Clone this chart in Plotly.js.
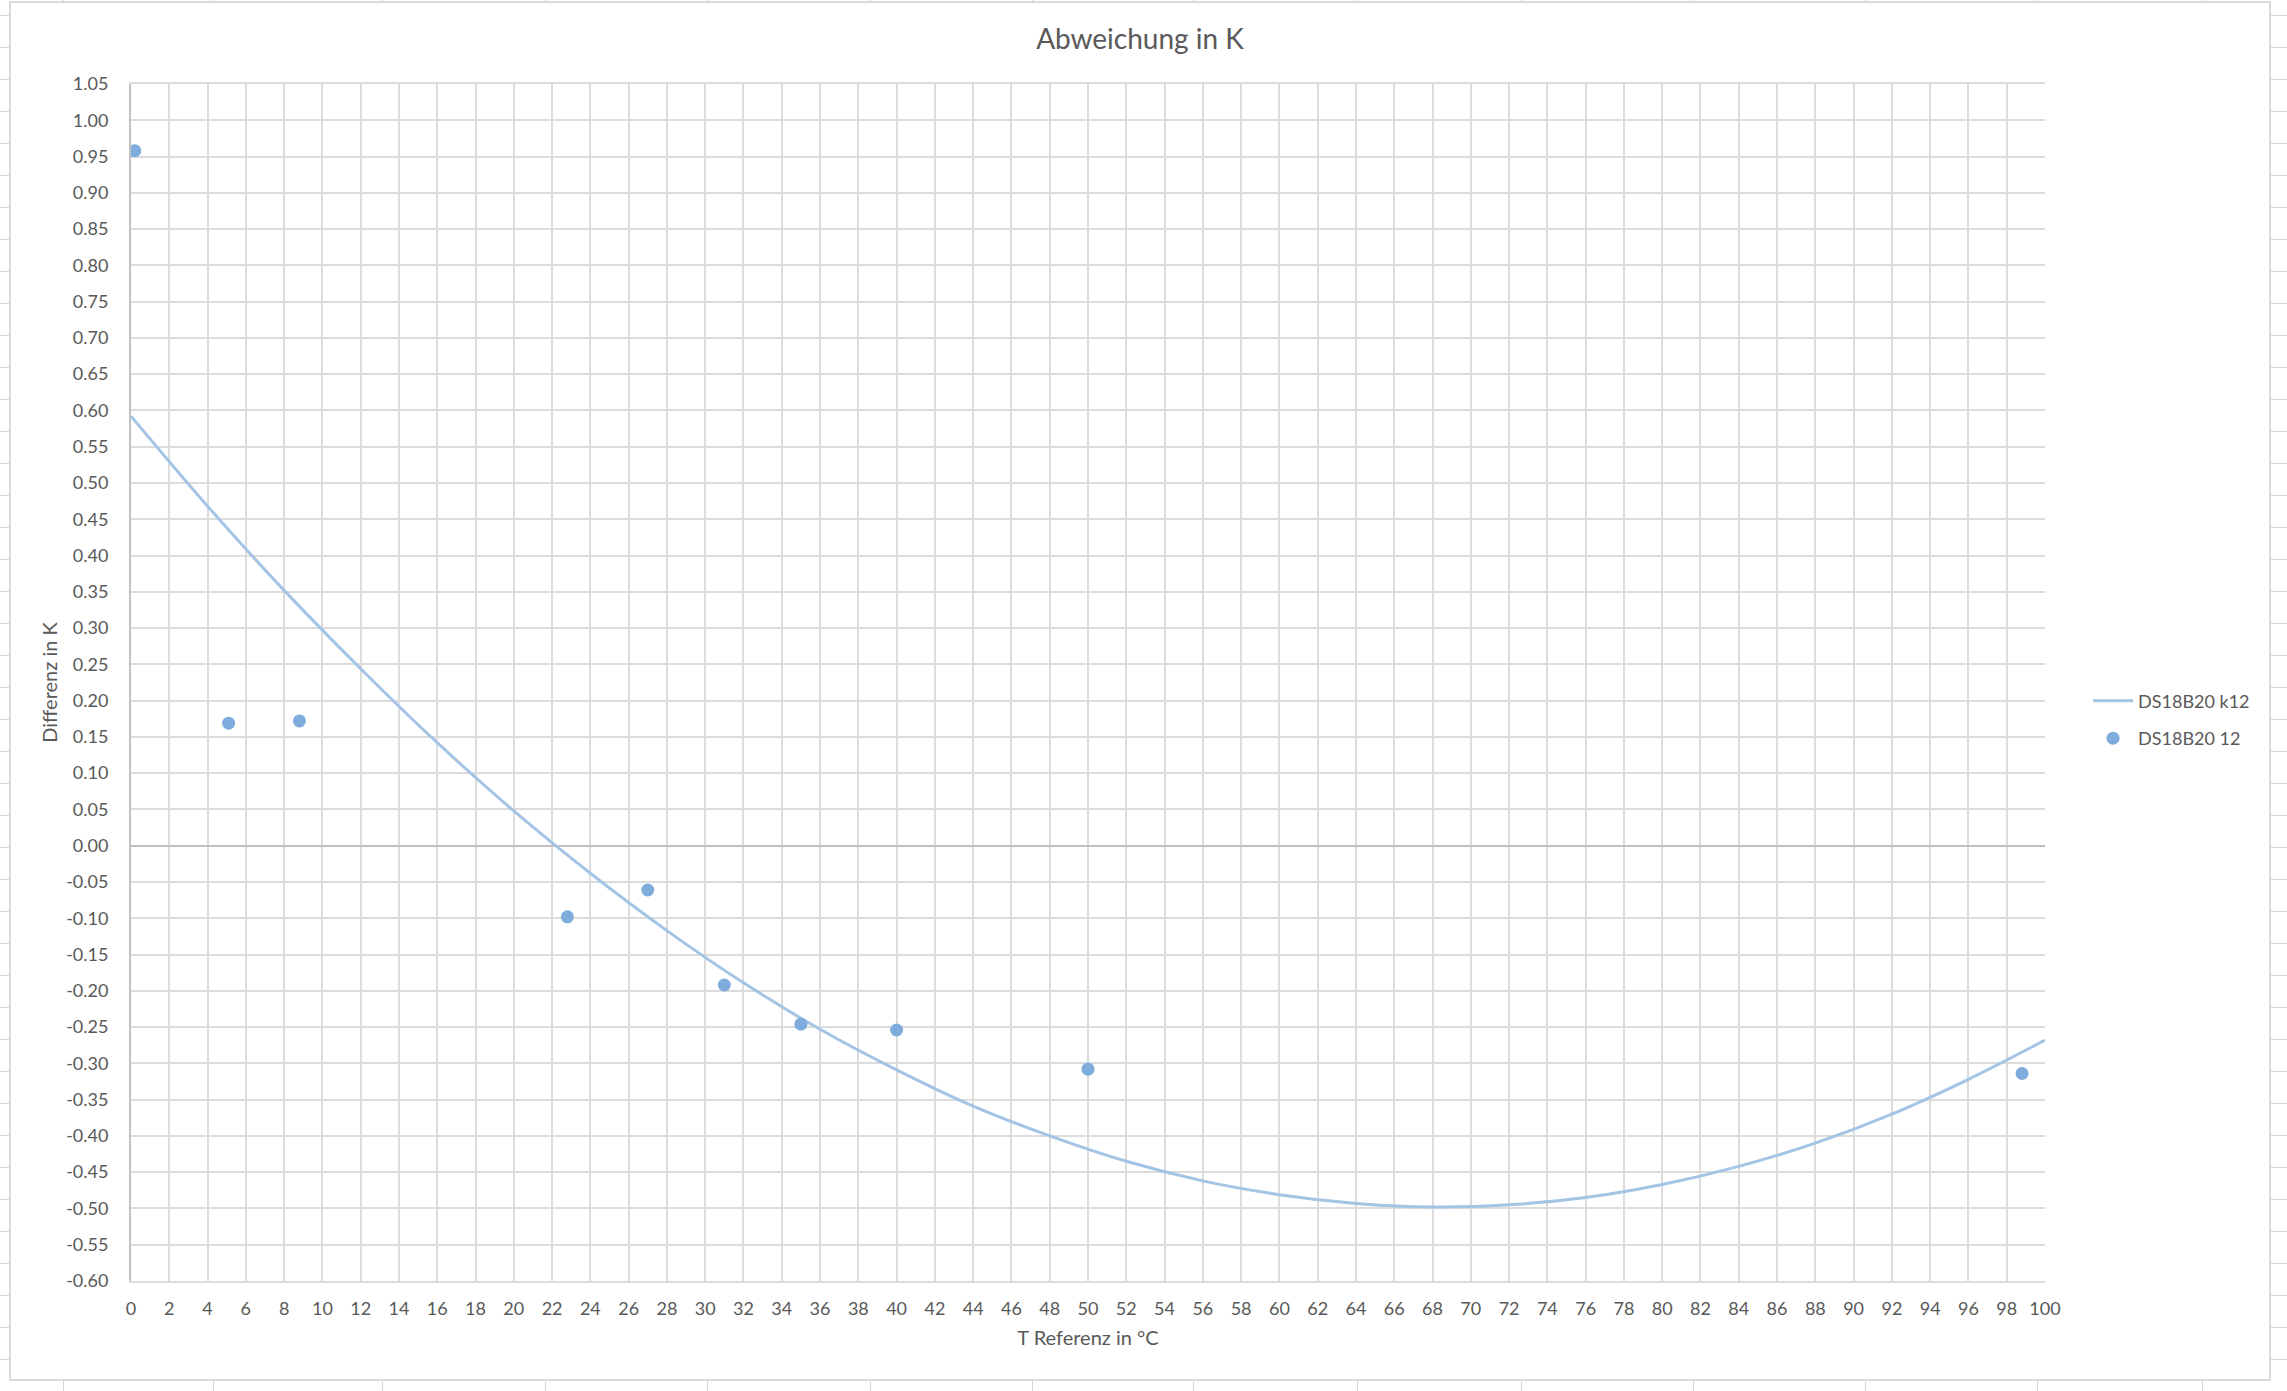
<!DOCTYPE html>
<html><head><meta charset="utf-8">
<script src="https://cdn.plot.ly/plotly-3.0.1.min.js"></script>
<style>
html,body{margin:0;padding:0;width:2287px;height:1391px;overflow:hidden;background:#fff;}
#sheet{position:absolute;left:0;top:0;width:2287px;height:1391px;
background-image:repeating-linear-gradient(to bottom, transparent 0px, transparent 15px, #d6d6d6 15px, #d6d6d6 16px, transparent 16px, transparent 32px);}
.col{position:absolute;top:0;width:1px;height:1391px;background:#d6d6d6;}
#frame{position:absolute;left:9px;top:1px;width:2262px;height:1380px;box-sizing:border-box;border:2px solid #d9d9d9;background:#fff;}
#chart{position:absolute;left:0;top:0;width:2258px;height:1376px;}
</style></head>
<body>
<div id="sheet"></div>
<div id="frame"><div id="chart"></div></div>
<script>
// Measured points (series "DS18B20 12")
const tempRef = [0.2, 5.1, 8.8, 22.8, 27.0, 31.0, 35.0, 40.0, 50.0, 98.8];
const diffK   = [0.958, 0.169, 0.172, -0.098, -0.061, -0.192, -0.246, -0.254, -0.308, -0.314];

// Correction curve (series "DS18B20 k12")
const curveT = [0, 4, 8, 12, 16, 20, 24, 28, 32, 36, 40, 44, 48, 52, 56, 60, 64, 68, 72, 76, 80, 84, 88, 92, 96, 100];
const curveK = [0.592, 0.468, 0.352, 0.244, 0.142, 0.048, -0.038, -0.117, -0.189, -0.253, -0.309, -0.359, -0.400, -0.435, -0.462, -0.481, -0.493, -0.498, -0.495, -0.485, -0.467, -0.442, -0.410, -0.370, -0.322, -0.268];

// Axis tick labels
const yTickVals = [1.05, 1.00, 0.95, 0.90, 0.85, 0.80, 0.75, 0.70, 0.65, 0.60, 0.55, 0.50, 0.45, 0.40, 0.35, 0.30, 0.25, 0.20, 0.15, 0.10, 0.05, 0.00, -0.05, -0.10, -0.15, -0.20, -0.25, -0.30, -0.35, -0.40, -0.45, -0.50, -0.55, -0.60];
const yTickText = ["1.05","1.00","0.95","0.90","0.85","0.80","0.75","0.70","0.65","0.60","0.55","0.50","0.45","0.40","0.35","0.30","0.25","0.20","0.15","0.10","0.05","0.00","-0.05","-0.10","-0.15","-0.20","-0.25","-0.30","-0.35","-0.40","-0.45","-0.50","-0.55","-0.60"];

const seriesNames = ["DS18B20 k12", "DS18B20 12"];

// spreadsheet column lines behind the chart (decoration)
const sheetCols = [63, 213, 382, 545, 707, 870, 1032, 1193, 1357, 1521, 1693, 1865, 2037, 2202];
const sheet = document.getElementById('sheet');
sheetCols.forEach(function(x){ const d=document.createElement('div'); d.className='col'; d.style.left=x+'px'; sheet.appendChild(d); });

const FONT = 'Lato, "Open Sans", sans-serif';
const TXT = '#595959';

const traces = [
  {x: curveT, y: curveK, type: 'scatter', mode: 'lines', name: seriesNames[0], legendgroup: 'a',
   line: {color: '#a3c4e5', width: 3, shape: 'spline', smoothing: 1}},
  {x: tempRef, y: diffK, type: 'scatter', mode: 'markers', name: seriesNames[1], legendgroup: 'b',
   marker: {color: '#7eacdc', size: 13}}
];

const layout = {
  width: 2258, height: 1376,
  margin: {l: 120, r: 224, t: 81, b: 98},
  paper_bgcolor: '#fff', plot_bgcolor: '#fff',
  font: {family: FONT, color: TXT, size: 18},
  title: {text: 'Abweichung in K', font: {family: FONT, size: 28, color: TXT},
          xref: 'container', x: 0.5, xanchor: 'center', yref: 'container', y: 0.9738, yanchor: 'middle'},
  xaxis: {range: [0, 100], dtick: 2, tick0: 0, showgrid: true, gridcolor: '#dcdcdc', gridwidth: 2,
          zeroline: false, showline: true, mirror: true, linecolor: '#dcdcdc', linewidth: 2,
          ticks: '', ticklabelstandoff: 10, tickfont: {size: 18, color: TXT},
          title: {text: 'T Referenz in °C', font: {size: 20, color: TXT}, standoff: 13}},
  yaxis: {range: [-0.6, 1.05], tickmode: 'array', tickvals: yTickVals, ticktext: yTickText,
          showgrid: true, gridcolor: '#dcdcdc', gridwidth: 2,
          zeroline: true, zerolinecolor: '#c0c0c0', zerolinewidth: 2,
          showline: true, linecolor: '#c0c0c0', linewidth: 2,
          ticks: '', ticklabelstandoff: 17, tickfont: {size: 18, color: TXT},
          title: {text: 'Differenz in K', font: {size: 20, color: TXT}, standoff: 3}},
  showlegend: true,
  legend: {x: 1.0225, xanchor: 'left', y: 0.469, yanchor: 'middle', font: {size: 18, color: TXT},
           bgcolor: 'rgba(0,0,0,0)', itemwidth: 40, tracegroupgap: 11, traceorder: 'grouped'}
};

Plotly.newPlot('chart', traces, layout, {displayModeBar: false, staticPlot: true});
</script>
</body></html>
